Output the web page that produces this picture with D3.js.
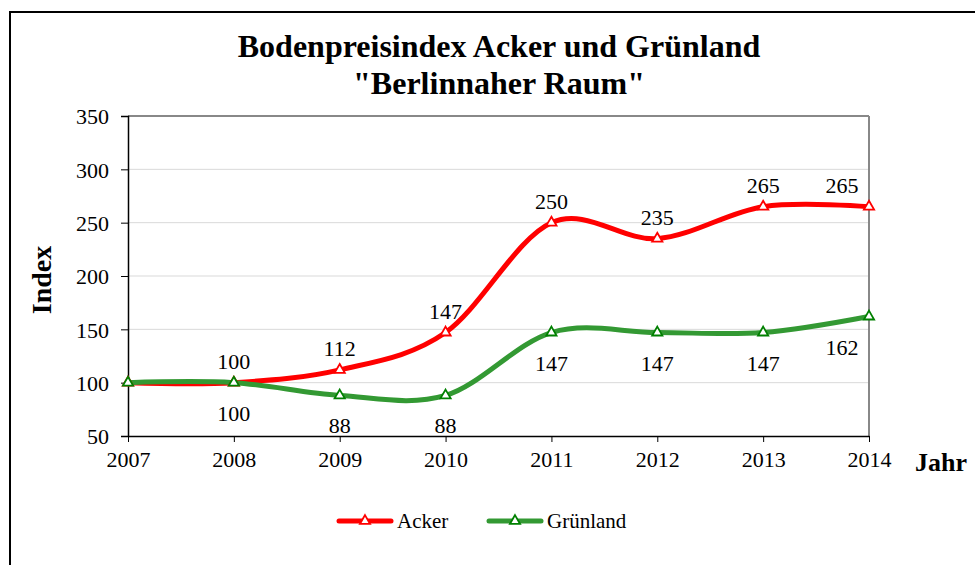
<!DOCTYPE html>
<html>
<head>
<meta charset="utf-8">
<script src="https://cdn.jsdelivr.net/npm/d3@7"></script>
<style>
  body { margin: 0; background: #fff; }
  svg, svg text { font-family: "Liberation Serif", "Times New Roman", serif; }
  .tick text { font-size: 22px; fill: #000; }
</style>
</head>
<body>
<svg id="chart" width="975" height="565"></svg>
<script>
// data
const years = [2007, 2008, 2009, 2010, 2011, 2012, 2013, 2014];
const acker = [100, 100, 112, 147, 250, 235, 265, 265];
const gruenland = [100, 100, 88, 88, 147, 147, 147, 162];
const yTicks = [50, 100, 150, 200, 250, 300, 350];

var margin = {top: 116, left: 128, right: 106, bottom: 129};
var W = 975, H = 565;

var svg = d3.select("#chart");

// outer frame
svg.append("rect")
  .attr("x", 10).attr("y", 12)
  .attr("width", 980).attr("height", 600)
  .attr("fill", "none").attr("stroke", "#000").attr("stroke-width", 2);

let x = d3.scalePoint()
  .domain(years)
  .range([margin.left, W - margin.right]);

let y = d3.scaleLinear()
  .domain([50, 350])
  .range([H - margin.bottom, margin.top]);

// gridlines
svg.append("g")
  .selectAll("line")
  .data(yTicks.slice(1))
  .enter().append("line")
  .attr("x1", margin.left).attr("x2", W - margin.right)
  .attr("y1", d => y(d)).attr("y2", d => y(d))
  .attr("stroke", d => d == 350 ? "#888" : "#d9d9d9")
  .attr("stroke-width", d => d == 350 ? 2 : 1);

// right border
svg.append("line")
  .attr("x1", W - margin.right).attr("x2", W - margin.right)
  .attr("y1", margin.top).attr("y2", H - margin.bottom)
  .attr("stroke", "#888").attr("stroke-width", 2);

let yAxis = d3.axisLeft(y).tickValues(yTicks).tickSize(7).tickPadding(12);
let gy = svg.append("g")
  .attr("transform", `translate(${margin.left},0)`)
  .call(yAxis)
  .attr("font-family", null).attr("font-size", null);
gy.select(".domain").attr("stroke", "#000").attr("stroke-width", 1.5);
gy.selectAll(".tick text").attr("dy", "0.35em");

let xAxis = d3.axisBottom(x).tickSize(6).tickPadding(7).tickSizeOuter(0);
let gx = svg.append("g")
  .attr("transform", `translate(0,${H - margin.bottom})`)
  .call(xAxis)
  .attr("font-family", null).attr("font-size", null);
gx.select(".domain").attr("stroke", "#000").attr("stroke-width", 1.5);
gx.selectAll(".tick line").attr("stroke", "#000");
gx.selectAll(".tick text").attr("dy", "0.8em");

// titles
svg.append("text")
  .attr("x", 499).attr("y", 57)
  .attr("text-anchor", "middle")
  .style("font-size", "32px").style("font-weight", "bold")
  .text("Bodenpreisindex Acker und Grünland");
svg.append("text")
  .attr("x", 499).attr("y", 94)
  .attr("text-anchor", "middle")
  .style("font-size", "32px").style("font-weight", "bold")
  .text('"Berlinnaher Raum"');

svg.append("text")
  .attr("transform", "translate(51,280) rotate(-90)")
  .attr("text-anchor", "middle")
  .style("font-size", "28px").style("font-weight", "bold")
  .text("Index");

svg.append("text")
  .attr("x", 941).attr("y", 471)
  .attr("text-anchor", "middle")
  .style("font-size", "26px").style("font-weight", "bold")
  .text("Jahr");

const series = [
  {name: "Acker", values: acker, color: "#ff0000", marker: "#ff0000", pos: "above"},
  {name: "Grünland", values: gruenland, color: "#339933", marker: "#008000", pos: "below"}
];

let line = d3.line()
  .x((d, i) => x(years[i]))
  .y(d => y(d))
  .curve(d3.curveCardinal.tension(0));

let tri = d3.symbol().type(d3.symbolTriangle).size(45);

series.forEach(s => {
  svg.append("path")
    .datum(s.values)
    .attr("d", line)
    .attr("fill", "none")
    .attr("stroke", s.color)
    .attr("stroke-width", 5)
    .attr("stroke-linecap", "round");
});

series.forEach(s => {
  svg.selectAll(null)
    .data(s.values)
    .enter().append("path")
    .attr("d", tri)
    .attr("transform", (d, i) => `translate(${x(years[i])},${y(d)})`)
    .attr("fill", "#fff")
    .attr("stroke", s.marker)
    .attr("stroke-width", 1.8);
});

// data labels (no label for first year)
series.forEach(s => {
  svg.selectAll(null)
    .data(s.values.slice(1))
    .enter().append("text")
    .attr("x", (d, i) => x(years[i + 1]) - (i == 6 ? 27 : 0))
    .attr("y", d => s.pos == "above" ? y(d) - 14 : y(d) + 38)
    .attr("text-anchor", "middle")
    .style("font-size", "22px")
    .text(d => d);
});

// legend
let legend = svg.append("g").attr("transform", "translate(0,521)");
[{s: series[0], x0: 337}, {s: series[1], x0: 487}].forEach(l => {
  legend.append("line")
    .attr("x1", l.x0 + 2).attr("x2", l.x0 + 54)
    .attr("stroke", l.s.color).attr("stroke-width", 5)
    .attr("stroke-linecap", "round");
  legend.append("path")
    .attr("d", tri)
    .attr("transform", `translate(${l.x0 + 28},0)`)
    .attr("fill", "#fff").attr("stroke", l.s.marker).attr("stroke-width", 1.8);
  legend.append("text")
    .attr("x", l.x0 + 60).attr("y", 7)
    .style("font-size", "21px")
    .text(l.s.name);
});
</script>
</body>
</html>
